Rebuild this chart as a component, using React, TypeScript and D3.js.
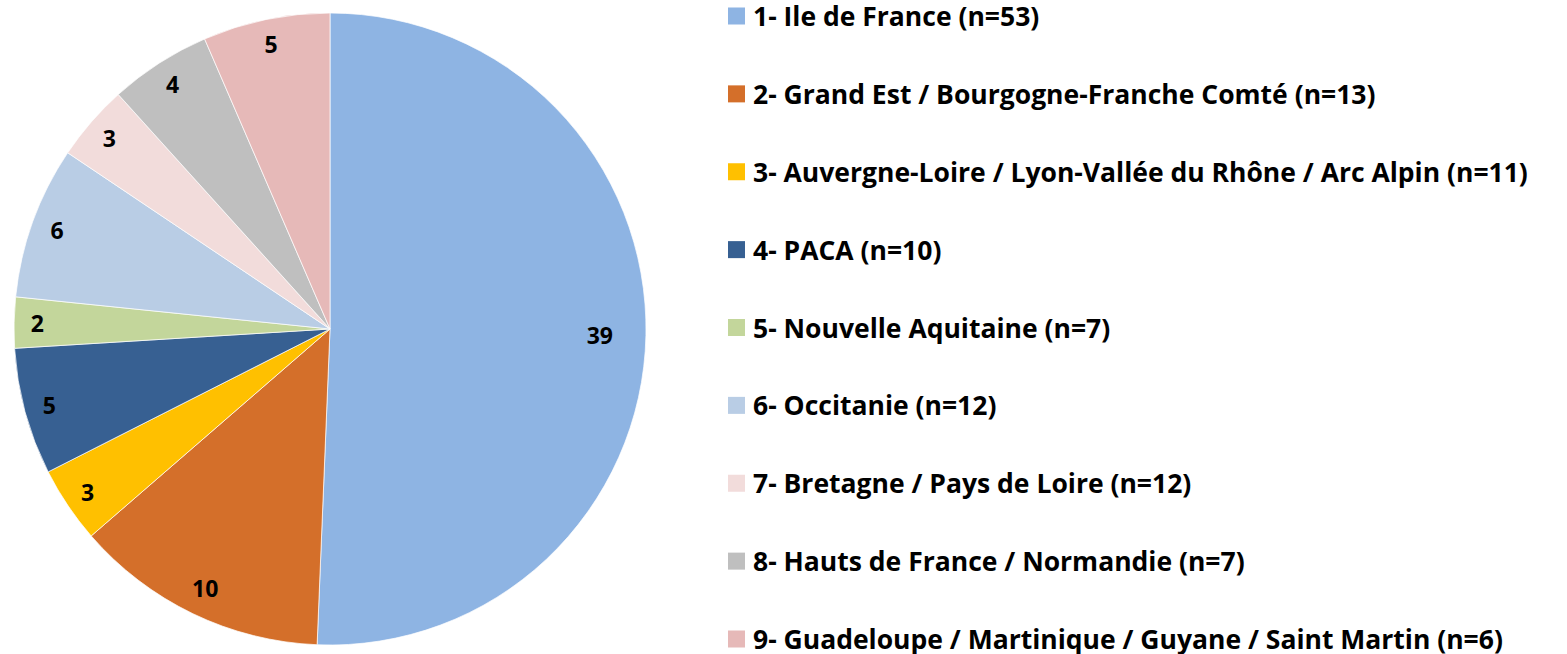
import React from 'react';
import * as d3 from 'd3';

const regions = [
  '1- Ile de France (n=53)',
  '2- Grand Est / Bourgogne-Franche Comté (n=13)',
  '3- Auvergne-Loire / Lyon-Vallée du Rhône / Arc Alpin (n=11)',
  '4- PACA (n=10)',
  '5- Nouvelle Aquitaine (n=7)',
  '6- Occitanie (n=12)',
  '7- Bretagne / Pays de Loire (n=12)',
  '8- Hauts de France / Normandie (n=7)',
  '9- Guadeloupe / Martinique / Guyane / Saint Martin (n=6)',
];
const counts = [39, 10, 3, 5, 2, 6, 3, 4, 5];
const colors = ['#8EB4E3', '#D46F2A', '#FFC000', '#376092', '#C3D69B', '#B9CDE5', '#F2DCDB', '#BFBFBF', '#E6B9B8'];

const W = 1567;
const H = 654;
const cx = 330;
const cy = 329;
const R = 316;

export default function App() {
  const total = d3.sum(counts);
  const pie = d3.pie<number>().sort(null).value((d) => d);
  const arcs = pie(counts);
  const arc = d3.arc<d3.PieArcDatum<number>>().innerRadius(0).outerRadius(R);

  // labels sit near the rim, smaller slices a bit further out (like Excel's best fit)
  const labelPos = (a: d3.PieArcDatum<number>) => {
    const frac = a.value / total;
    const r = R * (0.93 - 0.15 * frac);
    const lab = d3.arc<d3.PieArcDatum<number>>().innerRadius(r).outerRadius(r);
    return lab.centroid(a);
  };

  const legendY = d3.scalePoint<number>().domain(d3.range(regions.length)).range([16, 639]);

  return (
    <svg width={W} height={H} style={{ position: 'absolute', left: 0, top: 0 }}
      fontFamily="'Open Sans', sans-serif" fontWeight="bold">
      <g transform={`translate(${cx},${cy})`}>
        {arcs.map((a, i) => (
          <path key={i} d={arc(a) || ''} fill={colors[i]} stroke="#fff" strokeWidth={0.7} />
        ))}
        {arcs.map((a, i) => {
          const [x, y] = labelPos(a);
          return (
            <text key={i} x={x} y={y} textAnchor="middle" dominantBaseline="central" fontSize={23} fill="#000">
              {counts[i]}
            </text>
          );
        })}
      </g>
      {regions.map((r, i) => (
        <g key={i} transform={`translate(728,${legendY(i)})`}>
          <rect x={0} y={-8.5} width={17} height={17} fill={colors[i]} />
          <text x={25} y={0} dominantBaseline="central" fontSize={26.5} fill="#000">{r}</text>
        </g>
      ))}
    </svg>
  );
}
